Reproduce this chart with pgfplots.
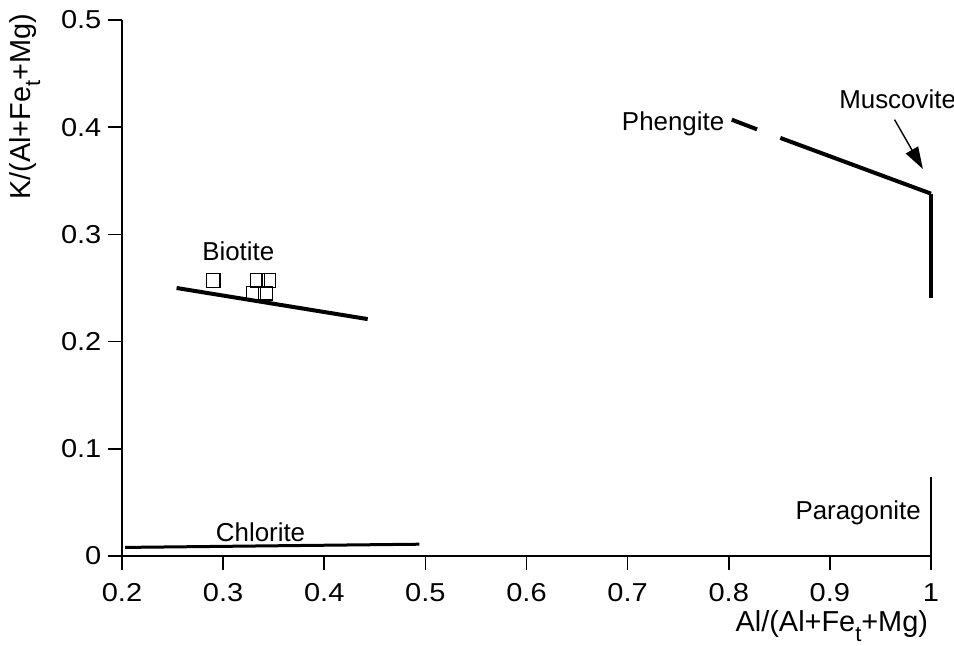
\documentclass[border=0pt]{standalone}
\usepackage{fontspec}
\setmainfont{Liberation Sans}
\newfontfamily\tickfont[FakeStretch=1.12]{Liberation Sans}
\usepackage{pgfplots}
\pgfplotsset{compat=1.18}
\usetikzlibrary{arrows.meta}
\newcommand{\subt}{\raisebox{-4.8bp}{\fontsize{11}{11}\selectfont t}}
\begin{document}
\begin{tikzpicture}
\useasboundingbox (-61bp,-45bp) rectangle (416bp,278bp);
\begin{axis}[
  at={(0,0)}, anchor=south west,
  scale only axis, width=404.5bp, height=268bp,
  xmin=0.2, xmax=1, ymin=0, ymax=0.5,
  clip=false,
  axis lines=left,
  axis line style={-, line width=0.8bp},
  tick align=outside, major tick length=6.8bp,
  tick style={line width=0.8bp, black},
  xtick={0.2,0.3,0.4,0.5,0.6,0.7,0.8,0.9,1},
  xticklabels={0.2,0.3,0.4,0.5,0.6,0.7,0.8,0.9,1},
  ytick={0,0.1,0.2,0.3,0.4,0.5},
  yticklabels={0,0.1,0.2,0.3,0.4,0.5},
  tick label style={font=\tickfont\fontsize{13}{14}\selectfont},
  x tick label style={yshift=-3.5bp},
  xlabel={Al/(Al+Fe\subt+Mg)},
  ylabel={K/(Al+Fe\subt+Mg)},
  label style={font=\fontsize{14.5}{15}\selectfont},
  xlabel style={at={(axis description cs:1.005,-0.131)}, anchor=east},
  ylabel style={at={(axis description cs:-0.12,0.838)}, anchor=center},
]
% Chlorite
\addplot[line width=1.5bp, black] coordinates {(0.203,0.008) (0.494,0.011)};
% Biotite line
\addplot[line width=2bp, black] coordinates {(0.254,0.250) (0.443,0.221)};
% Biotite analyses
\addplot[only marks, mark=square, mark size=3.4bp, mark options={line width=0.7bp, black, fill=white}] coordinates {
  (0.290,0.257) (0.334,0.257) (0.345,0.257) (0.330,0.245) (0.342,0.245)};
% Phengite - Muscovite
\addplot[line width=2bp, black] coordinates {(0.803,0.407) (0.828,0.398)};
\addplot[line width=2bp, black] coordinates {(0.851,0.390) (1,0.338)};
\addplot[line width=1.6bp, black] coordinates {(1,0.338) (1,0.241)};
% Paragonite
\addplot[line width=1bp, black] coordinates {(1,0) (1,0.074)};
% Arrow
\addplot[line width=0.7bp, black, -{Triangle[length=11bp,width=7bp]}] coordinates {(0.964,0.407) (0.992,0.361)};
% Labels
\node[font=\fontsize{13}{13}\selectfont] at (axis cs:0.315,0.284) {Biotite};
\node[font=\fontsize{13}{13}\selectfont] at (axis cs:0.337,0.022) {Chlorite};
\node[font=\fontsize{13}{13}\selectfont] at (axis cs:0.745,0.403) {Phengite};
\node[font=\fontsize{13}{13}\selectfont] at (axis cs:0.967,0.426) {Muscovite};
\node[font=\fontsize{13}{13}\selectfont] at (axis cs:0.928,0.040) {Paragonite};
\end{axis}
\end{tikzpicture}
\end{document}
